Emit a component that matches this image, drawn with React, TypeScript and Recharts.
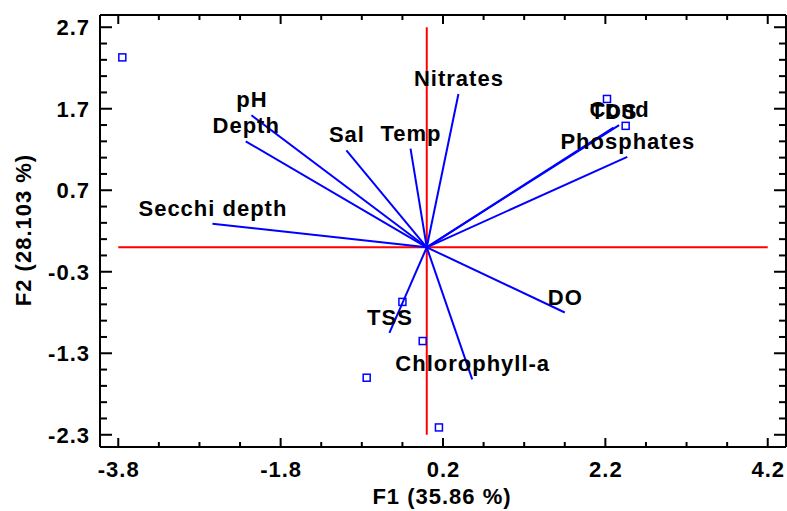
import React from 'react';
import { ScatterChart, Scatter, XAxis, YAxis, ReferenceLine } from 'recharts';

// variable loadings (vectors from the origin)
const variables = ['pH', 'Depth', 'Sal', 'Temp', 'Nitrates', 'TDS', 'Cond', 'Phosphates', 'Secchi depth', 'DO', 'TSS', 'Chlorophyll-a'];
const f1Loadings = [-2.16, -2.23, -0.99, -0.2, 0.39, 2.3, 2.37, 2.47, -2.64, 1.7, -0.46, 0.56];
const f2Loadings = [1.62, 1.3, 1.19, 1.21, 1.88, 1.47, 1.5, 1.11, 0.29, -0.8, -1.05, -1.62];

// observation scores
const obsF1 = [-3.75, 2.22, 2.45, -0.3, -0.05, 0.15, -0.74];
const obsF2 = [2.33, 1.82, 1.49, -0.67, -1.15, -2.21, -1.6];

const xMajor = [-3.8, -1.8, 0.2, 2.2, 4.2];
const xMinor = [-3.3, -2.8, -2.3, -1.3, -0.8, -0.3, 0.7, 1.2, 1.7, 2.7, 3.2, 3.7];
const yMajor = [2.7, 1.7, 0.7, -0.3, -1.3, -2.3];
const yMinor = [2.5, 2.3, 2.1, 1.9, 1.5, 1.3, 1.1, 0.9, 0.5, 0.3, 0.1, -0.1, -0.5, -0.7, -0.9, -1.1, -1.5, -1.7, -1.9, -2.1];

const xDomain = [-4.025, 4.425];
const yDomain = [-2.45, 2.85];

const vectors = variables.map((name, i) => ({ name, x: f1Loadings[i], y: f2Loadings[i] }));
const observations = obsF1.map((x, i) => ({ x, y: obsF2[i] }));

const FONT = "'Liberation Sans', Arial, sans-serif";
const textStyle = { fontFamily: FONT, fontWeight: 700, fontSize: 22, letterSpacing: 1, fill: '#000' };
const BLUE = '#0000FF';
const RED = '#FF0000';

const BottomTick = (props: any) => {
  const { x, y, payload } = props;
  const major = xMajor.includes(payload.value);
  return (
    <g>
      <line x1={x} y1={y} x2={x} y2={y - (major ? 9 : 5)} stroke="#000" strokeWidth={2} />
      {major && (
        <text x={x + 0.5} y={y + 30} textAnchor="middle" style={textStyle}>
          {payload.value.toFixed(1)}
        </text>
      )}
    </g>
  );
};

const TopTick = (props: any) => {
  const { x, y, payload } = props;
  const major = xMajor.includes(payload.value);
  return <line x1={x} y1={y} x2={x} y2={y + (major ? 9 : 5)} stroke="#000" strokeWidth={2} />;
};

const LeftTick = (props: any) => {
  const { x, y, payload } = props;
  const major = yMajor.includes(payload.value);
  return (
    <g>
      <line x1={x} y1={y} x2={x + (major ? 12 : 7)} y2={y} stroke="#000" strokeWidth={2} />
      {major && (
        <text x={x - 10} y={y} dy="0.36em" textAnchor="end" style={textStyle}>
          {payload.value.toFixed(1)}
        </text>
      )}
    </g>
  );
};

const RightTick = (props: any) => {
  const { x, y, payload } = props;
  const major = yMajor.includes(payload.value);
  return <line x1={x} y1={y} x2={x - (major ? 12 : 7)} y2={y} stroke="#000" strokeWidth={2} />;
};

const Square = (props: any) => {
  const { cx, cy } = props;
  return <rect x={cx - 3.5} y={cy - 3.5} width={7} height={7} fill="none" stroke={BLUE} strokeWidth={1.5} />;
};

const VectorLabel = (props: any) => {
  const { cx, cy, payload } = props;
  return (
    <text x={cx + 0.5} y={cy - 8} textAnchor="middle" style={textStyle}>
      {payload.name}
    </text>
  );
};

const Nothing = () => <g />;

export default function App() {
  return (
    <div style={{ position: 'absolute', left: 0, top: 0, background: '#fff' }}>
      <ScatterChart width={787} height={511} margin={{ top: 14, right: 0, bottom: 0, left: 0 }}>
        <XAxis
          xAxisId="b"
          type="number"
          dataKey="x"
          domain={xDomain}
          allowDataOverflow
          ticks={[...xMajor, ...xMinor]}
          interval={0}
          tickLine={false}
          tickSize={0}
          tickMargin={0}
          height={64}
          axisLine={{ stroke: '#000', strokeWidth: 2 }}
          tick={BottomTick}
          label={{
            content: (p: any) => (
              <text x={442} y={(p.viewBox?.y ?? 447) + 57} textAnchor="middle" style={textStyle}>
                F1 (35.86 %)
              </text>
            ),
          }}
        />
        <XAxis
          xAxisId="t"
          orientation="top"
          type="number"
          dataKey="x"
          domain={xDomain}
          allowDataOverflow
          ticks={[...xMajor, ...xMinor]}
          interval={0}
          tickLine={false}
          tickSize={0}
          tickMargin={0}
          height={1}
          axisLine={{ stroke: '#000', strokeWidth: 2 }}
          tick={TopTick}
        />
        <YAxis
          yAxisId="l"
          type="number"
          dataKey="y"
          domain={yDomain}
          allowDataOverflow
          ticks={[...yMajor, ...yMinor]}
          interval={0}
          tickLine={false}
          tickSize={0}
          tickMargin={0}
          width={100}
          axisLine={{ stroke: '#000', strokeWidth: 2 }}
          tick={LeftTick}
          label={{
            content: () => (
              <text x={23} y={230} transform="rotate(-90 23 230)" dy="0.36em" textAnchor="middle" style={textStyle}>
                F2 (28.103 %)
              </text>
            ),
          }}
        />
        <YAxis
          yAxisId="r"
          orientation="right"
          type="number"
          dataKey="y"
          domain={yDomain}
          allowDataOverflow
          ticks={[...yMajor, ...yMinor]}
          interval={0}
          tickLine={false}
          tickSize={0}
          tickMargin={0}
          width={1}
          axisLine={{ stroke: '#000', strokeWidth: 2 }}
          tick={RightTick}
        />
        <Scatter xAxisId="t" yAxisId="r" data={observations} shape={Nothing} isAnimationActive={false} legendType="none" />
        <ReferenceLine
          xAxisId="b"
          yAxisId="l"
          segment={[{ x: xMajor[0], y: 0 }, { x: xMajor[xMajor.length - 1], y: 0 }]}
          stroke={RED}
          strokeWidth={2}
        />
        <ReferenceLine
          xAxisId="b"
          yAxisId="l"
          segment={[{ x: 0, y: yMajor[yMajor.length - 1] }, { x: 0, y: yMajor[0] }]}
          stroke={RED}
          strokeWidth={2}
        />
        {vectors.map((v) => (
          <Scatter
            key={v.name}
            xAxisId="b"
            yAxisId="l"
            data={[{ x: 0, y: 0 }, { x: v.x, y: v.y }]}
            line={{ stroke: BLUE, strokeWidth: 2 }}
            shape={Nothing}
            isAnimationActive={false}
            legendType="none"
          />
        ))}
        <Scatter xAxisId="b" yAxisId="l" data={observations} shape={Square} isAnimationActive={false} legendType="none" />
        <Scatter xAxisId="b" yAxisId="l" data={vectors} shape={VectorLabel} isAnimationActive={false} legendType="none" />
      </ScatterChart>
    </div>
  );
}
